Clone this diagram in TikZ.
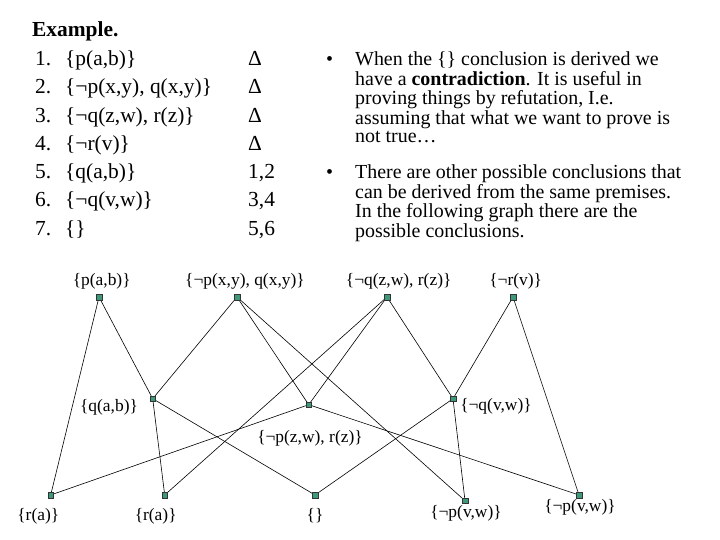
\documentclass[tikz,border=0pt]{standalone}
\usepackage{fontspec}
\setmainfont{Liberation Serif}
\usepackage{tikz}
\usepackage{xcolor}
\definecolor{dotgreen}{RGB}{62,152,122}

\begin{document}
\begin{tikzpicture}[x=1bp,y=-1bp,line cap=round,
  dot/.style={draw=black!80,fill=dotgreen,line width=0.5bp,minimum size=5.5bp,inner sep=0pt},
  lbl/.style={inner sep=0pt,font=\fontsize{17.5}{20}\selectfont},
  row/.style={inner sep=0pt,anchor=base west,font=\fontsize{21.5}{24}\selectfont},
  para/.style={inner sep=0pt,anchor=base west,font=\fontsize{20}{18.8}\selectfont},
  edge/.style={line width=0.6bp}]
\useasboundingbox (0,0) rectangle (720,540);
\fill[white] (0,0) rectangle (720,540);
% the derivation
\node[row] (title) at (32,37) {\textbf{Example.}};
\node[row] (n1) at (35,65.5) {1.};
\node[row] (c1) at (65,65.5) {\{p(a,b)\}};
\node[row] (j1) at (248,65.5) {Δ};
\node[row] (n2) at (35,93.8) {2.};
\node[row] (c2) at (65,93.8) {\{¬p(x,y), q(x,y)\}};
\node[row] (j2) at (248,93.8) {Δ};
\node[row] (n3) at (35,122.1) {3.};
\node[row] (c3) at (65,122.1) {\{¬q(z,w), r(z)\}};
\node[row] (j3) at (248,122.1) {Δ};
\node[row] (n4) at (35,150.4) {4.};
\node[row] (c4) at (65,150.4) {\{¬r(v)\}};
\node[row] (j4) at (248,150.4) {Δ};
\node[row] (n5) at (35,178.7) {5.};
\node[row] (c5) at (65,178.7) {\{q(a,b)\}};
\node[row] (j5) at (248,178.7) {1,2};
\node[row] (n6) at (35,207) {6.};
\node[row] (c6) at (65,207) {\{¬q(v,w)\}};
\node[row] (j6) at (248,207) {3,4};
\node[row] (n7) at (35,235.3) {7.};
\node[row] (c7) at (65,235.3) {\{\}};
\node[row] (j7) at (248,235.3) {5,6};
% remarks
\node[para] (b1) at (326,65.5) {•};
\node[para] (t1) at (355,65.5) {\begin{tabular}[t]{@{}l@{}}When the \{\} conclusion is derived we\\
have a \textbf{contradiction}. It is useful in\\
proving things by refutation, I.e.\\
assuming that what we want to prove is\\
not true…\end{tabular}};
\node[para] (b2) at (326,178.7) {•};
\node[para] (t2) at (355,178.7) {\begin{tabular}[t]{@{}l@{}}There are other possible conclusions that\\
can be derived from the same premises.\\
In the following graph there are the\\
possible conclusions.\end{tabular}};
% graph nodes
\node[dot] (pab) at (99,297) {};
\node[dot] (pxy) at (237,297) {};
\node[dot] (qzw) at (387,297) {};
\node[dot] (rv) at (513,297) {};
\node[dot] (qab) at (152.7,398.7) {};
\node[dot] (pzw) at (308.7,404.7) {};
\node[dot] (qvw) at (453,398.7) {};
\node[dot] (ra1) at (50.7,495) {};
\node[dot] (ra2) at (164.7,495) {};
\node[dot] (emp) at (315,495) {};
\node[dot] (pvw1) at (465,500.7) {};
\node[dot] (pvw2) at (579,495) {};
% labels
\node[lbl] (pabL) at (101.7,281) {\{p(a,b)\}};
\node[lbl] (pxyL) at (245,281) {\{¬p(x,y), q(x,y)\}};
\node[lbl] (qzwL) at (398.7,281) {\{¬q(z,w), r(z)\}};
\node[lbl] (rvL) at (515.7,281) {\{¬r(v)\}};
\node[lbl] (qabL) at (109,407) {\{q(a,b)\}};
\node[lbl] (pzwL) at (310,438) {\{¬p(z,w), r(z)\}};
\node[lbl] (qvwL) at (496,406) {\{¬q(v,w)\}};
\node[lbl] (ra1L) at (38.3,516) {\{r(a)\}};
\node[lbl] (ra2L) at (155.7,516) {\{r(a)\}};
\node[lbl] (empL) at (315,516) {\{\}};
\node[lbl] (pvw1L) at (466,513) {\{¬p(v,w)\}};
\node[lbl] (pvw2L) at (580,507) {\{¬p(v,w)\}};
% resolution edges
\draw[edge] (pab.center) -- (ra1.center);
\draw[edge] (pab.center) -- (qab.center);
\draw[edge] (pxy.center) -- (qab.center);
\draw[edge] (pxy.center) -- (pzw.center);
\draw[edge] (pxy.center) -- (pvw1.center);
\draw[edge] (qab.center) -- (ra2.center);
\draw[edge] (qab.center) -- (emp.center);
\draw[edge] (pzw.center) -- (ra1.center);
\draw[edge] (pzw.center) -- (pvw2.center);
\draw[edge] (qzw.center) -- (ra2.center);
\draw[edge] (qzw.center) -- (pzw.center);
\draw[edge] (qzw.center) -- (qvw.center);
\draw[edge] (rv.center) -- (qvw.center);
\draw[edge] (rv.center) -- (pvw2.center);
\draw[edge] (qvw.center) -- (pvw1.center);
\draw[edge] (qvw.center) -- (emp.center);
% redraw the dots over the edges
\foreach \d in {pab,pxy,qzw,rv,qab,pzw,qvw,ra1,ra2,emp,pvw1,pvw2}
  \node[dot] at (\d) {};
\end{tikzpicture}
\end{document}
